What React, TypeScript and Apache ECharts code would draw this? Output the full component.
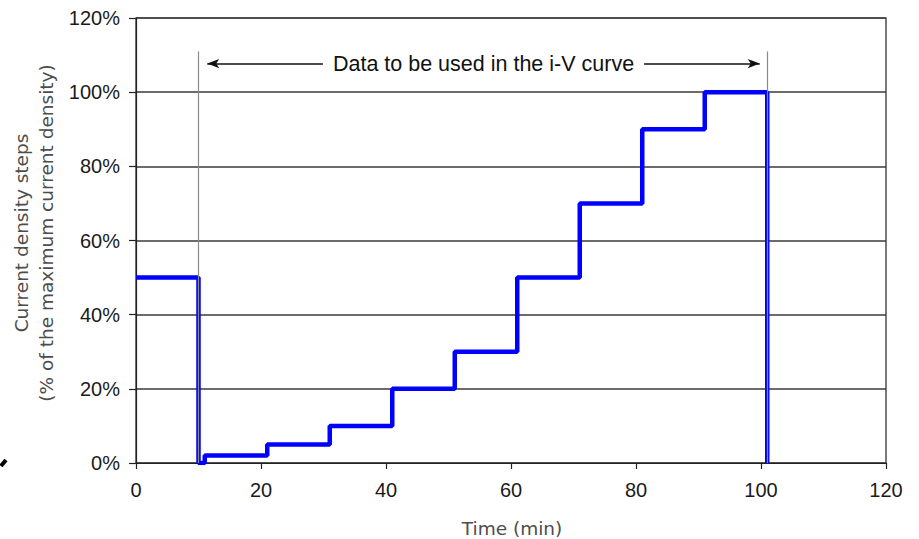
import React, { useEffect, useRef } from "react";
import * as echarts from "echarts";

// Step data: each value holds from its time until the next time (step "end")
const stepTimes = [0, 10, 11, 21, 31, 41, 51, 61, 71, 81, 91, 101];
const stepLevels = [50, 0, 2, 5, 10, 20, 30, 50, 70, 90, 100, 0];

// Range of data used for the i-V curve (gray guide lines)
const usedRange = [10, 101];
const guideTop = 111;

// Arrow annotation
const arrowY = 107.7;
const arrowEnds = [11.4, 99.8];
const arrowText = "Data to be used in the i-V curve";

const xTicks = [0, 20, 40, 60, 80, 100, 120];
const yTicks = [0, 20, 40, 60, 80, 100, 120];

const tickFont = "'Liberation Sans', Arial, Helvetica, sans-serif";
const nameFont = "'DejaVu Sans', Verdana, sans-serif";

export default function App() {
  const ref = useRef<HTMLDivElement>(null);
  useEffect(() => {
    if (!ref.current) return;
    const chart = echarts.init(ref.current, undefined, { renderer: "svg" });
    chart.setOption({
      animation: false,
      backgroundColor: "#ffffff",
      grid: {
        left: 136,
        right: 33,
        top: 18,
        bottom: 76,
        show: true,
        borderColor: "#222",
        borderWidth: 1.2,
        backgroundColor: "transparent",
        outerBoundsMode: "none",
      },
      xAxis: {
        type: "value",
        min: xTicks[0],
        max: xTicks[xTicks.length - 1],
        interval: 20,
        axisLine: { show: true, onZero: false, lineStyle: { color: "#222", width: 1.2 } },
        axisTick: { show: true, inside: false, length: 6, lineStyle: { color: "#222", width: 1.2 } },
        axisLabel: { margin: 17, fontFamily: tickFont, fontSize: 20, color: "#1a1a1a" },
        splitLine: { show: false },
      },
      yAxis: {
        type: "value",
        min: yTicks[0],
        max: yTicks[yTicks.length - 1],
        interval: 20,
        axisLine: { show: true, lineStyle: { color: "#222", width: 1.2 } },
        axisTick: { show: true, inside: false, length: 7, lineStyle: { color: "#222", width: 1.2 } },
        axisLabel: {
          margin: 16,
          fontFamily: tickFont,
          fontSize: 20,
          color: "#1a1a1a",
          formatter: (v: number) => `${v}%`,
        },
        splitLine: { show: true, lineStyle: { color: "#3a3a3a", width: 1.5 } },
      },
      graphic: [
        {
          type: "text",
          x: 34,
          y: 233,
          rotation: Math.PI / 2,
          style: {
            text: "Current density steps\n(% of the maximum current density)",
            fontFamily: nameFont,
            fontSize: 18.5,
            lineHeight: 25,
            fill: "#4d4d4d",
            align: "center",
            verticalAlign: "middle",
          },
        },
        {
          type: "text",
          x: 512,
          y: 528,
          style: {
            text: "Time (min)",
            fontFamily: nameFont,
            fontSize: 18.5,
            fill: "#4d4d4d",
            align: "center",
            verticalAlign: "middle",
          },
        },
        {
          type: "line",
          shape: { x1: 1, y1: 466, x2: 6, y2: 460 },
          style: { stroke: "#000", lineWidth: 4 },
        },
      ],
      series: [
        {
          type: "line",
          step: "end",
          data: stepTimes.map((t, i) => [t, stepLevels[i]]),
          symbol: "none",
          lineStyle: { color: "#0000ff", width: 4.5 },
          z: 2,
        },
        {
          type: "line",
          data: [],
          symbol: "none",
          z: 3,
          markLine: {
            silent: true,
            symbol: ["none", "none"],
            label: { show: false },
            lineStyle: { color: "#8a8a8a", width: 1.2, type: "solid" },
            data: usedRange.map((x) => [
              { coord: [x, 0] },
              { coord: [x, guideTop] },
            ]),
          },
        },
        {
          type: "line",
          data: [],
          symbol: "none",
          z: 4,
          markLine: {
            silent: true,
            symbol: ["arrow", "arrow"],
            symbolSize: [7, 12],
            lineStyle: { color: "#111", width: 1.5, type: "solid" },
            label: {
              show: true,
              position: "insideMiddle",
              formatter: arrowText,
              fontFamily: tickFont,
              fontSize: 21.5,
              color: "#111",
              backgroundColor: "#ffffff",
              padding: [2, 10],
              distance: 0,
            },
            data: [
              [
                { coord: [arrowEnds[0], arrowY] },
                { coord: [arrowEnds[1], arrowY] },
              ],
            ],
          },
        },
      ],
    });
    return () => chart.dispose();
  }, []);
  return (
    <div
      ref={ref}
      style={{ position: "fixed", left: 0, top: 0, width: 919, height: 539 }}
    />
  );
}
